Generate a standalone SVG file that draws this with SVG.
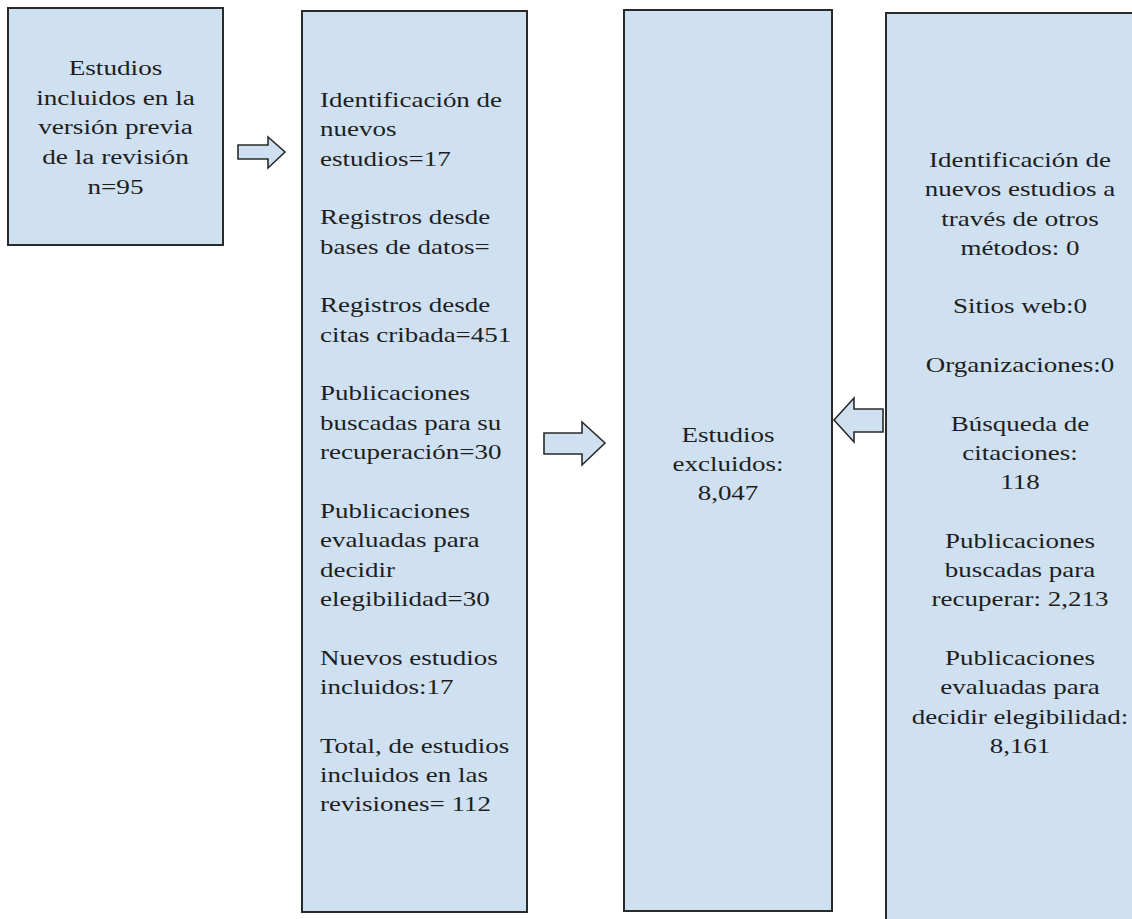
<svg xmlns="http://www.w3.org/2000/svg" width="1132" height="919" viewBox="0 0 1132 919">
<style>
.box{fill:#cfe0f1;stroke:#2a2a2a;stroke-width:2}
.arr{fill:#cfe0f1;stroke:#2a2a2a;stroke-width:1.6;stroke-linejoin:miter}
text{font-family:"Liberation Serif","Times New Roman",serif;font-size:20px;fill:#1e1e1e}
.c{text-anchor:middle}
</style>
<rect width="1132" height="919" fill="#ffffff"/>
<g id="connectors">
<polygon class="arr" points="238,145 268,145 268,137 285,152 268,168 268,159 238,159"/>
<polygon class="arr" points="544,433 582,433 582,422 605,443 582,465 582,454 544,454"/>
<polygon class="arr" points="883,409 854,409 854,398 834,420 854,442 854,432 883,432"/>
</g>
<g id="node-previos">
<rect class="box" x="8" y="8" width="215" height="237"/>
<g transform="translate(115.5 0) scale(1.36 1)">
<text class="c" x="0" y="75">Estudios</text>
<text class="c" x="0" y="105">incluidos en la</text>
<text class="c" x="0" y="134.5">versión previa</text>
<text class="c" x="0" y="164">de la revisión</text>
<text class="c" x="0" y="194">n=95</text>
</g>
</g>
<g id="node-nuevos">
<rect class="box" x="302" y="11" width="225" height="901"/>
<g transform="translate(320 0) scale(1.35 1)">
<text x="0" y="107">Identificación de</text>
<text x="0" y="136.4">nuevos</text>
<text x="0" y="165.7">estudios=17</text>
<text x="0" y="224.4">Registros desde</text>
<text x="0" y="253.8">bases de datos=</text>
<text x="0" y="312.5">Registros desde</text>
<text x="0" y="341.8">citas cribada=451</text>
<text x="0" y="400.5">Publicaciones</text>
<text x="0" y="429.9">buscadas para su</text>
<text x="0" y="459.2">recuperación=30</text>
<text x="0" y="517.9">Publicaciones</text>
<text x="0" y="547.3">evaluadas para</text>
<text x="0" y="576.6">decidir</text>
<text x="0" y="606">elegibilidad=30</text>
<text x="0" y="664.7">Nuevos estudios</text>
<text x="0" y="694">incluidos:17</text>
<text x="0" y="752.7">Total, de estudios</text>
<text x="0" y="782.1">incluidos en las</text>
<text x="0" y="811.4">revisiones= 112</text>
</g>
</g>
<g id="node-excluidos">
<rect class="box" x="624" y="10" width="208" height="901"/>
<g transform="translate(728 0) scale(1.35 1)">
<text class="c" x="0" y="442">Estudios</text>
<text class="c" x="0" y="471">excluidos:</text>
<text class="c" x="0" y="500">8,047</text>
</g>
</g>
<g id="node-otros">
<rect class="box" x="886" y="13" width="280" height="920"/>
<g transform="translate(1020 0) scale(1.35 1)">
<text class="c" x="0" y="167">Identificación de</text>
<text class="c" x="0" y="196.3">nuevos estudios a</text>
<text class="c" x="0" y="225.6">través de otros</text>
<text class="c" x="0" y="254.9">métodos: 0</text>
<text class="c" x="0" y="313.5">Sitios web:0</text>
<text class="c" x="0" y="372.1">Organizaciones:0</text>
<text class="c" x="0" y="430.7">Búsqueda de</text>
<text class="c" x="0" y="460">citaciones:</text>
<text class="c" x="0" y="489.3">118</text>
<text class="c" x="0" y="547.9">Publicaciones</text>
<text class="c" x="0" y="577.2">buscadas para</text>
<text class="c" x="0" y="606.5">recuperar: 2,213</text>
<text class="c" x="0" y="665.1">Publicaciones</text>
<text class="c" x="0" y="694.4">evaluadas para</text>
<text class="c" x="0" y="723.7">decidir elegibilidad:</text>
<text class="c" x="0" y="753">8,161</text>
</g>
</g>
</svg>
